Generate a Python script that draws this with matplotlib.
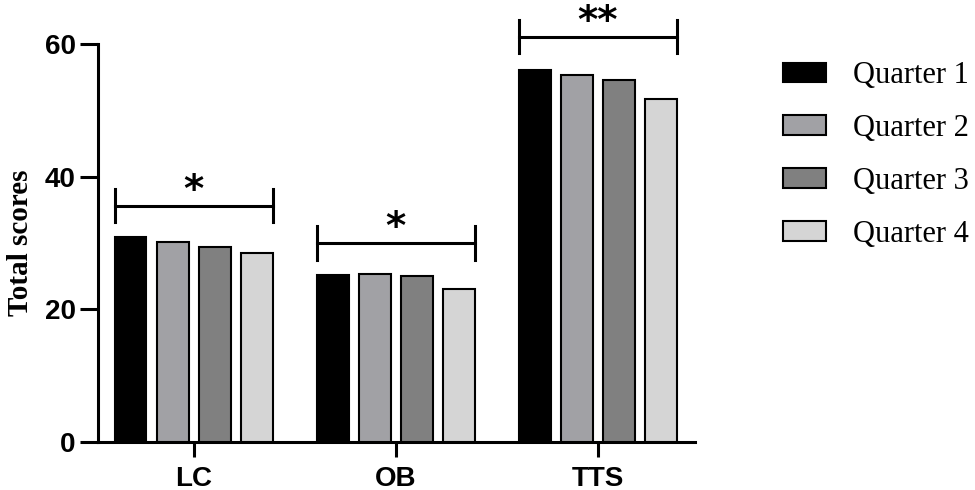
import numpy as np
import matplotlib
matplotlib.use('Agg')
import matplotlib.pyplot as plt

categories = ['LC', 'OB', 'TTS']
quarters = ['Quarter 1', 'Quarter 2', 'Quarter 3', 'Quarter 4']
q1 = [30.9, 25.2, 56.1]
q2 = [30.2, 25.3, 55.4]
q3 = [29.4, 25.1, 54.6]
q4 = [28.5, 23.1, 51.7]
colors = ['#000000', '#a1a1a5', '#808080', '#d5d5d5']
# significance marks: (label, bracket height)
sig_marks = ['*', '*', '**']
sig_heights = [35.6, 30.0, 61.1]

fig = plt.figure(figsize=(9.75, 4.9), dpi=100)
ax = fig.add_axes([0.1005, 0.098, 0.612, 0.812])

x = np.arange(len(categories))
pitch = 0.208
width = 0.158
for i, (vals, col, lab) in enumerate(zip([q1, q2, q3, q4], colors, quarters)):
    ax.bar(x + (i - 1.5) * pitch, vals, width, color=col, edgecolor='black',
           linewidth=1.5, label=lab, zorder=3)

# brackets
for xi, mark, h in zip(x, sig_marks, sig_heights):
    left = xi - 1.5 * pitch - width / 2
    right = xi + 1.5 * pitch + width / 2
    ax.plot([left, right], [h, h], color='black', lw=2.2, clip_on=False)
    ax.plot([left, left], [h - 2.5, h + 2.5], color='black', lw=2.2, clip_on=False)
    ax.plot([right, right], [h - 2.5, h + 2.5], color='black', lw=2.2, clip_on=False)
    ax.text(xi, h + 0.6, mark, ha='center', va='baseline', fontsize=28,
            fontweight='bold', family='DejaVu Sans', clip_on=False)

ax.set_xlim(-0.473, 2.48)
ax.set_ylim(0, 60)
ax.set_yticks([0, 20, 40, 60])
ax.set_xticks(x)
ax.set_xticklabels(categories)
for s in ['top', 'right']:
    ax.spines[s].set_visible(False)
for s in ['left', 'bottom']:
    ax.spines[s].set_linewidth(2.2)
ax.tick_params(axis='y', length=13, width=2.2, pad=3)
ax.tick_params(axis='x', length=11, width=2.2, pad=6)
for t in ax.get_xticklabels() + ax.get_yticklabels():
    t.set_fontsize(20)
    t.set_fontweight('bold')
    t.set_family('Liberation Sans')

ax.set_ylabel('Total scores', fontsize=21, fontweight='bold',
              family='Liberation Serif')
ax.yaxis.set_label_coords(-0.108, 0.5)

leg = fig.legend(loc='upper left', bbox_to_anchor=(0.803, 0.875),
                 frameon=False, prop={'family': 'Liberation Serif', 'size': 22},
                 handlelength=1.4, handleheight=0.62, handletextpad=0.88,
                 labelspacing=0.78, borderpad=0, borderaxespad=0)

fig.savefig('out.png', dpi=100)
